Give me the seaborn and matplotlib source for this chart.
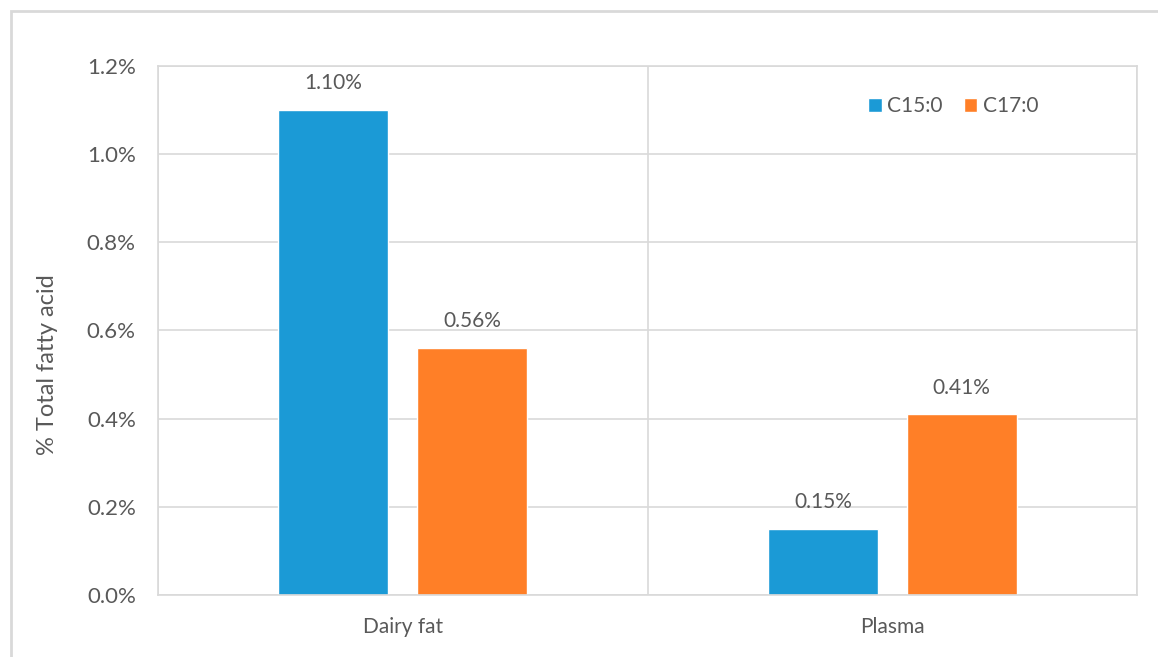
import matplotlib
matplotlib.use("Agg")
import matplotlib.pyplot as plt
import seaborn as sns
import pandas as pd
from matplotlib.patches import Rectangle
from matplotlib.ticker import FuncFormatter, MultipleLocator

categories = ["Dairy fat", "Plasma"]
series = ["C15:0", "C17:0"]
c15 = [1.10, 0.15]
c17 = [0.56, 0.41]
colors = ["#1B9AD6", "#FF7F27"]

df = pd.DataFrame({
    "cat": categories * 2,
    "series": [series[0]] * 2 + [series[1]] * 2,
    "val": c15 + c17,
})

sns.set_theme(style="white")
plt.rcParams["font.family"] = ["Lato", "DejaVu Sans"]
txt = "#595959"
grid = "#D9D9D9"

fig = plt.figure(figsize=(11.58, 6.57), dpi=100)
ax = fig.add_axes([158/1158, 1-595/657, (1137-158)/1158, (595-66)/657])

sns.barplot(data=df, x="cat", y="val", hue="series", palette=colors,
            width=0.567, gap=0.209, ax=ax, saturation=1, legend=True)

ax.set_xlim(-0.5, 1.5)
ax.set_ylim(0, 1.2)
ax.yaxis.set_major_locator(MultipleLocator(0.2))
ax.yaxis.set_major_formatter(FuncFormatter(lambda v, p: f"{v:.1f}%"))
ax.xaxis.set_minor_locator(MultipleLocator(1.0, offset=0.5))
ax.grid(True, axis="y", which="major", color=grid, lw=1.2)
ax.grid(True, axis="x", which="minor", color=grid, lw=1.2)
ax.set_axisbelow(True)
for s in ax.spines.values():
    s.set_color(grid)
    s.set_linewidth(1.2)
ax.tick_params(axis="both", which="both", length=0, colors=txt)
ax.tick_params(axis="x", labelsize=15, pad=16)
ax.tick_params(axis="y", labelsize=16, pad=16)
ax.set_xlabel("")
ax.set_ylabel("% Total fatty acid", color=txt, fontsize=17, labelpad=20)
ax.yaxis.set_label_coords(-0.102, (595-365)/529)

for cont in ax.containers:
    ax.bar_label(cont, labels=[f"{v:.2f}%" for v in cont.datavalues],
                 padding=12, color=txt, fontsize=15)

leg = ax.legend(loc="center left",
                bbox_to_anchor=((868-158)/979, (595-106)/529), ncol=2,
                frameon=False, fontsize=15, handlelength=0.67, handleheight=0.67,
                handletextpad=0.25, columnspacing=1.0, labelcolor=txt,
                borderaxespad=0, borderpad=0)

fig.patches.append(Rectangle((11/1158, -0.1), 1.2, 1 - 11/657 + 0.1,
                             transform=fig.transFigure, fill=False,
                             edgecolor=grid, lw=2, zorder=0))

fig.savefig("out.png", dpi=100)
